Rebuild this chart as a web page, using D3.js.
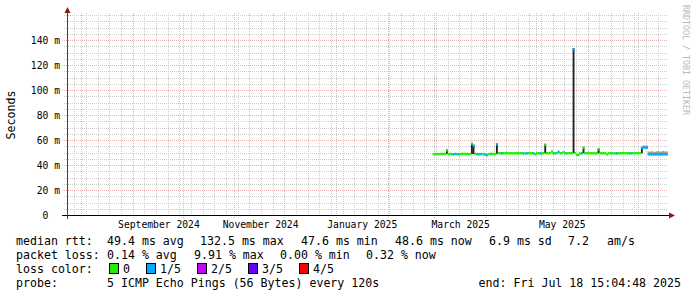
<!DOCTYPE html>
<html><head><meta charset="utf-8">
<script src="https://cdn.jsdelivr.net/npm/d3@7"></script>
<style>
html,body{margin:0;padding:0;background:#fff;}
svg{display:block;}
text{font-family:"DejaVu Sans Mono",monospace;white-space:pre;}
</style></head>
<body><svg id="c" width="697" height="297"></svg>
<script>
// ---------- data ----------
const endTime = new Date(2025, 6, 18, 15, 4, 48);
const spanDays = 360;
const yMax = 160;
const yTickValues = [0, 20, 40, 60, 80, 100, 120, 140];
const yTickLabels = ["0  ", "20 m", "40 m", "60 m", "80 m", "100 m", "120 m", "140 m"];
const xLabelMonths = [new Date(2024, 8, 1), new Date(2024, 10, 1), new Date(2025, 0, 1), new Date(2025, 2, 1), new Date(2025, 4, 1)];
const dataStart = new Date(2025, 1, 28);
// daily median rtt (ms)
const median = [
  48.7, 48.8, 48.8, 48.7, 48.8, 48.8, 48.9, 48.8, 51.8, 48.8,
  48.8, 48.7, 48.6, 48.8, 48.7, 48.6, 48.8, 48.8, 48.9, 48.8,
  48.8, 48.7, 48.8, 57.0, 55.5, 48.8, 48.7, 48.6, 48.7, 48.8,
  48.8, 48.4, 47.9, 48.8, 48.8, 48.9, 48.8, 48.8, 56.5, 49.4,
  49.4, 49.3, 49.4, 49.4, 49.5, 49.4, 49.4, 49.4, 49.3, 49.4,
  49.4, 49.4, 49.5, 49.4, 49.2, 49.4, 49.3, 49.4, 49.4, 49.5,
  49.3, 48.5, 49.4, 49.4, 49.3, 49.4, 49.4, 56.0, 49.4, 49.4,
  49.5, 50.8, 49.3, 49.4, 49.5, 50.6, 49.4, 49.4, 50.4, 49.3,
  49.4, 49.4, 49.5, 49.4, 132.5, 49.6, 48.0, 48.1, 49.4, 49.3,
  53.6, 49.4, 49.4, 49.5, 49.4, 49.4, 49.4, 49.3, 49.4, 52.6,
  49.4, 49.4, 49.4, 49.5, 48.5, 49.4, 49.4, 49.4, 49.3, 49.4,
  49.3, 49.4, 49.4, 49.4, 49.5, 49.4, 49.4, 49.4, 49.3, 49.4,
  49.4, 49.4, 49.4, 49.5, 49.4, 53.6, 54.0, 54.0, 53.8, 48.5,
  48.6, 48.5, 48.4, 48.5, 48.6, 48.5, 48.4, 48.5, 48.6, 48.5, 48.6
];
// daily loss class (0 = 0, 1 = 1/5 ...)
const lossIdx = [
  0,0,0,0,0,0,0,0,0,0,
  0,0,1,1,0,1,0,0,0,0,
  0,0,0,0,1,0,0,1,1,0,
  0,1,1,0,0,0,0,0,1,0,
  0,1,0,0,0,0,0,0,0,0,
  0,0,0,0,1,0,1,0,0,0,
  1,0,0,0,1,0,0,0,0,0,
  0,0,1,0,0,1,0,0,0,1,
  0,0,0,0,1,0,0,0,0,1,
  0,0,0,0,0,0,0,0,0,0,
  0,0,0,0,0,0,0,0,0,0,
  1,0,0,0,0,0,0,0,1,0,
  0,0,0,0,0,1,1,1,1,1,
  1,1,1,1,1,1,1,1,1,1,1
];
// smoke (ping spread) for the days where it is visible
const smokeDay  = [8, 23, 24, 38, 67, 84, 90, 99, 125, 126, 127, 128, 129, 130, 131, 132, 133, 134, 135, 136, 137, 138, 139, 140];
const smokeLo   = [48.8, 48.8, 48.8, 48.8, 49.4, 49.4, 49.4, 49.4, 49.4, 53.5, 53.5, 53.5, 48.5, 48.5, 48.5, 48.5, 48.5, 48.5, 48.5, 48.5, 48.5, 48.5, 48.5, 48.5];
const smokeHi   = [52.8, 57.6, 56.0, 57.2, 57.0, 133.4, 54.6, 53.2, 54.5, 55.6, 55.4, 55.5, 50.8, 50.5, 51.0, 50.6, 50.5, 50.9, 51.2, 50.6, 50.8, 51.3, 50.7, 50.9];
const smokeDense = [1,1,1,1,1,1,1,1,1,0,0,0,0,0,0,0,0,0,0,0,0,0,0,0];

const lossLabels = ["0", "1/5", "2/5", "3/5", "4/5"];
const lossColors = ["#22ee00", "#00aaff", "#cc00ff", "#6600ff", "#ff0000"];

const statLine1 = ["median rtt:", "49.4 ms avg", "132.5 ms max", "47.6 ms min", "48.6 ms now", "6.9 ms sd", "7.2", "am/s"];
const statLine2 = ["packet loss:", "0.14 % avg", "9.91 % max", "0.00 % min", "0.32 % now"];
const probeLabel = "probe:";
const probeText = "5 ICMP Echo Pings (56 Bytes) every 120s";
const endText = "end: Fri Jul 18 15:04:48 2025";
const yTitle = "Seconds";
const watermark = "RRDTOOL / TOBI OETIKER";

// ---------- layout ----------
const L = 67, R = 667, T = 15, B = 215;
const FS_AX = 9.7, FS_LG = 11.6;
const line1X = [16, 107, 200, 301, 395, 489, 568, 607];
const line2X = [16, 107, 194, 280, 366];
const legY = [245, 259, 273, 287];
const GRID = "#cdcdcd", MGRID = "#eab2b2";

const svg = d3.select("#c");
const startTime = d3.timeDay.offset(endTime, -spanDays);
const x = d3.scaleTime().domain([startTime, endTime]).range([L, R]);
const y = d3.scaleLinear().domain([0, yMax]).range([B, T]);

const g = svg.append("g");

// horizontal grid
const minorY = d3.range(5, yMax + 1, 5).filter(v => !yTickValues.includes(v));
g.selectAll(".hmin").data(minorY).join("line")
  .attr("x1", L - 3).attr("x2", R + 1)
  .attr("y1", d => Math.round(y(d)) + 0.5).attr("y2", d => Math.round(y(d)) + 0.5)
  .attr("stroke", GRID).attr("stroke-dasharray", "1,1");
// vertical minor grid (weeks)
const weeks = d3.timeSunday.range(startTime, endTime);
g.selectAll(".vmin").data(weeks).join("line")
  .attr("x1", d => Math.round(x(d)) + 0.5).attr("x2", d => Math.round(x(d)) + 0.5)
  .attr("y1", T - 2).attr("y2", B + 2)
  .attr("stroke", GRID).attr("stroke-dasharray", "1,1");
// major grids
g.selectAll(".hmaj").data(yTickValues.filter(v => v > 0)).join("line")
  .attr("x1", L - 5).attr("x2", R + 1)
  .attr("y1", d => Math.round(y(d)) + 0.5).attr("y2", d => Math.round(y(d)) + 0.5)
  .attr("stroke", MGRID).attr("stroke-dasharray", "1,1");
const months = d3.timeMonth.range(d3.timeMonth.ceil(startTime), endTime);
g.selectAll(".vmaj").data(months).join("line")
  .attr("x1", d => Math.round(x(d)) + 0.5).attr("x2", d => Math.round(x(d)) + 0.5)
  .attr("y1", T - 2).attr("y2", B + 3)
  .attr("stroke", MGRID).attr("stroke-dasharray", "1,1");

// data
const days = median.map((m, i) => d3.timeDay.offset(dataStart, i));
const stepW = i => x(d3.timeDay.offset(days[i], 1)) - x(days[i]);
g.selectAll(".smoke").data(smokeDay).join("rect")
  .attr("x", (d) => x(days[d]))
  .attr("width", d => stepW(d) + 0.2)
  .attr("y", (d, k) => y(smokeHi[k]))
  .attr("height", (d, k) => y(smokeLo[k]) - y(smokeHi[k]))
  .attr("fill", (d, k) => smokeDense[k] ? "#222" : "#9a9a9a");
g.selectAll(".med").data(median).join("rect")
  .attr("x", (d, i) => x(days[i]))
  .attr("width", (d, i) => stepW(i) + 0.3)
  .attr("y", d => y(d) - 1.2)
  .attr("height", 2.4)
  .attr("fill", (d, i) => lossColors[lossIdx[i]]);

// axes lines
g.append("line").attr("x1", L - 5).attr("x2", R + 3).attr("y1", B + 0.5).attr("y2", B + 0.5).attr("stroke", "#000");
g.append("line").attr("x1", L + 0.5).attr("x2", L + 0.5).attr("y1", B + 4).attr("y2", 12).attr("stroke", "#444");
g.append("path").attr("d", `M${L - 2.5},13 L${L + 0.5},7 L${L + 3.5},13 Z`).attr("fill", "#8b1a1a");
g.append("path").attr("d", `M${R + 2},${B - 2.5} L${R + 8},${B + 0.5} L${R + 2},${B + 3.5} Z`).attr("fill", "#8b1a1a");

// y axis labels
const yAx = d3.axisLeft(y).tickValues(yTickValues).tickFormat((d, i) => yTickLabels[i]).tickSize(0).tickPadding(7);
const ya = svg.append("g").attr("transform", `translate(${L},0)`).call(yAx);
ya.select(".domain").remove();
ya.selectAll("text").attr("font-family", "DejaVu Sans Mono").attr("font-size", FS_AX).attr("fill", "#000").attr("dy", "0.36em").attr("xml:space", "preserve");

// x axis labels (centered half a month after month start)
const labelDates = xLabelMonths.map(d => d3.timeHour.offset(d, 15.5 * 24));
const xAx = d3.axisBottom(x).tickValues(labelDates).tickFormat(d3.timeFormat("%B %Y")).tickSize(0);
const xa = svg.append("g").attr("transform", `translate(0,${B})`).call(xAx);
xa.select(".domain").remove();
xa.selectAll("text").attr("font-family", "DejaVu Sans Mono").attr("font-size", FS_AX).attr("fill", "#000").attr("y", 13).attr("dy", 0);

// titles
svg.append("text").attr("transform", `translate(15,${(T + B) / 2}) rotate(-90)`).attr("text-anchor", "middle")
  .attr("font-size", FS_LG).attr("fill", "#000").text(yTitle);
svg.append("text").attr("transform", `translate(683,5) rotate(90)`).attr("font-size", 8.3).attr("fill", "#b8b8b8").text(watermark);

// legend
const leg = svg.append("g").attr("font-size", FS_LG).attr("fill", "#000");
statLine1.forEach((s, i) => leg.append("text").attr("x", line1X[i]).attr("y", legY[0]).text(s));
statLine2.forEach((s, i) => leg.append("text").attr("x", line2X[i]).attr("y", legY[1]).text(s));
leg.append("text").attr("x", 16).attr("y", legY[2]).text("loss color:");
let cx = 109;
lossLabels.forEach((s, i) => {
  leg.append("rect").attr("x", cx + 0.5).attr("y", legY[2] - 9.5).attr("width", 9).attr("height", 10)
    .attr("fill", lossColors[i]).attr("stroke", "#000");
  leg.append("text").attr("x", cx + 14).attr("y", legY[2]).text(s);
  cx += 14 + s.length * 7 + 16;
});
leg.append("text").attr("x", 16).attr("y", legY[3]).text(probeLabel);
leg.append("text").attr("x", 107).attr("y", legY[3]).text(probeText);
leg.append("text").attr("x", 681).attr("y", legY[3]).attr("text-anchor", "end").text(endText);
</script></body></html>
